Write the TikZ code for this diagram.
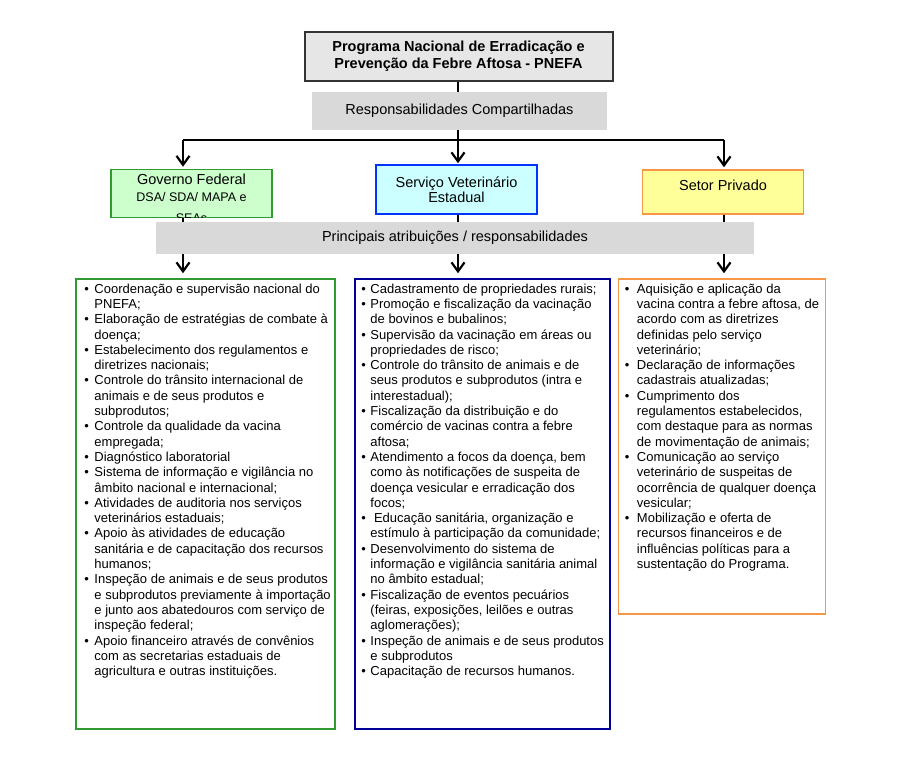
\documentclass[tikz,border=0pt]{standalone}
\usepackage{fontspec}
\setmainfont{Liberation Sans}
\usetikzlibrary{arrows.meta}
\definecolor{titlegray}{HTML}{E6E6E6}
\definecolor{bandgray}{HTML}{D9D9D9}
\definecolor{govgreen}{HTML}{339933}
\definecolor{govfill}{HTML}{CCFFCC}
\definecolor{svcblue}{HTML}{0033FF}
\definecolor{svcfill}{HTML}{CCFFFF}
\definecolor{listblue}{HTML}{000099}
\definecolor{privorange}{HTML}{F79646}
\definecolor{privfill}{HTML}{FFFF99}
\newlength\bulw
\newcommand\bul{\makebox[\bulw][l]{\textbullet}}
\newcommand\ind{\hspace*{\bulw}}
\newcommand\subfont{\fontsize{12.5}{17.5}\selectfont}
\begin{document}
\begin{tikzpicture}[x=1pt,y=-1pt,
  >={Straight Barb[length=9pt,width=13pt]},
  conn/.style={line width=2.2pt},
  headbox/.style={minimum width=161pt,line width=1.5pt,inner sep=0pt,align=center,font=\fontsize{14.5}{15}\selectfont},
  band/.style={fill=bandgray,inner sep=0pt,font=\fontsize{14.5}{16}\selectfont},
  listbox/.style={line width=1.5pt,inner sep=0pt},
  listtext/.style={anchor=north west,inner sep=0pt,align=left,font=\fontsize{13}{15.3}\selectfont}]
\useasboundingbox[fill=white] (0,0) rectangle (921,768);
% title
\node[draw=black!80,line width=2pt,fill=titlegray,minimum width=308pt,minimum height=49pt,
  font=\fontsize{14.5}{17}\selectfont\bfseries,align=center] (pnefa) at (458.5,56.5)
  {Programa Nacional de Erradicação e\\Prevenção da Febre Aftosa - PNEFA};
% the three parties
\node[headbox,draw=govgreen,fill=govfill,minimum height=48pt] (gov) at (191.5,193.5) {};
\begin{scope}
\clip ([xshift=1pt,yshift=1pt]gov.south west) rectangle ([xshift=-1pt,yshift=-1pt]gov.north east);
\node[anchor=north,align=center,inner sep=0pt,font=\fontsize{14.5}{17.5}\selectfont] (govname) at ([yshift=-5pt]gov.north)
  {Governo Federal\\\subfont DSA/ SDA/ MAPA e\\[3pt]\subfont SEAs};
\end{scope}
\node[headbox,draw=svcblue,fill=svcfill,minimum height=49pt] (svc) at (456.5,189.5) {Serviço Veterinário\\Estadual};
\node[headbox,draw=privorange,fill=privfill,minimum height=44pt,text depth=14pt] (priv) at (723,192) {Setor Privado};
% lists
\node[listbox,draw=govgreen,minimum width=259pt,minimum height=450pt] (govlist) at (205.5,504) {};
\node[listbox,draw=listblue,minimum width=255pt,minimum height=450pt] (svclist) at (482.5,504) {};
\node[listbox,draw=privorange,minimum width=207pt,minimum height=335pt] (privlist) at (722,446.5) {};
\global\bulw=10pt
\node[listtext] (govitems) at ([xshift=9pt,yshift=-4pt]govlist.north west) {%
\strut\bul Coordenação e supervisão nacional do\\\ind PNEFA;\\
\bul Elaboração de estratégias de combate à\\\ind doença;\\
\bul Estabelecimento dos regulamentos e\\\ind diretrizes nacionais;\\
\bul Controle do trânsito internacional de\\\ind animais e de seus produtos e\\\ind subprodutos;\\
\bul Controle da qualidade da vacina\\\ind empregada;\\
\bul Diagnóstico laboratorial\\
\bul Sistema de informação e vigilância no\\\ind âmbito nacional e internacional;\\
\bul Atividades de auditoria nos serviços\\\ind veterinários estaduais;\\
\bul Apoio às atividades de educação\\\ind sanitária e de capacitação dos recursos\\\ind humanos;\\
\bul Inspeção de animais e de seus produtos\\\ind e subprodutos previamente à importação\\\ind e junto aos abatedouros com serviço de\\\ind inspeção federal;\\
\bul Apoio financeiro através de convênios\\\ind com as secretarias estaduais de\\\ind agricultura e outras instituições.};
\global\bulw=9pt
\node[listtext] (svcitems) at ([xshift=7pt,yshift=-4pt]svclist.north west) {%
\strut\bul Cadastramento de propriedades rurais;\\
\bul Promoção e fiscalização da vacinação\\\ind de bovinos e bubalinos;\\
\bul Supervisão da vacinação em áreas ou\\\ind propriedades de risco;\\
\bul Controle do trânsito de animais e de\\\ind seus produtos e subprodutos (intra e\\\ind interestadual);\\
\bul Fiscalização da distribuição e do\\\ind comércio de vacinas contra a febre\\\ind aftosa;\\
\bul Atendimento a focos da doença, bem\\\ind como às notificações de suspeita de\\\ind doença vesicular e erradicação dos\\\ind focos;\\
\bul\ Educação sanitária, organização e\\\ind estímulo à participação da comunidade;\\
\bul Desenvolvimento do sistema de\\\ind informação e vigilância sanitária animal\\\ind no âmbito estadual;\\
\bul Fiscalização de eventos pecuários\\\ind (feiras, exposições, leilões e outras\\\ind aglomerações);\\
\bul Inspeção de animais e de seus produtos\\\ind e subprodutos\\
\bul Capacitação de recursos humanos.};
\global\bulw=12pt
\node[listtext] (privitems) at ([xshift=7pt,yshift=-4pt]privlist.north west) {%
\strut\bul Aquisição e aplicação da\\\ind vacina contra a febre aftosa, de\\\ind acordo com as diretrizes\\\ind definidas pelo serviço\\\ind veterinário;\\
\bul Declaração de informações\\\ind cadastrais atualizadas;\\
\bul Cumprimento dos\\\ind regulamentos estabelecidos,\\\ind com destaque para as normas\\\ind de movimentação de animais;\\
\bul Comunicação ao serviço\\\ind veterinário de suspeitas de\\\ind ocorrência de qualquer doença\\\ind vesicular;\\
\bul Mobilização e oferta de\\\ind recursos financeiros e de\\\ind influências políticas para a\\\ind sustentação do Programa.};
% connectors
\coordinate (hl) at (183,140); \coordinate (hm) at (458,140); \coordinate (hr) at (724,140);
\draw[conn] (pnefa.south -| hm) -- (hm);
\draw[conn] (hl) -- (hr);
\draw[conn,->,shorten >=2pt] (hl) -- (gov.north -| hl);
\draw[conn,->,shorten >=1pt] (hm) -- (svc.north -| hm);
\draw[conn,->,shorten >=2pt] (hr) -- (priv.north -| hr);
\draw[conn,->,shorten >=5pt] (gov.south -| hl) -- (govlist.north -| hl);
\draw[conn,->,shorten >=5pt] (svc.south -| hm) -- (svclist.north -| hm);
\draw[conn,->,shorten >=5pt] (priv.south -| hr) -- (privlist.north -| hr);
% grey bands over the lines
\node[band,minimum width=295pt,minimum height=38pt] (shared) at (459.5,111) {Responsabilidades Compartilhadas};
\node[band,minimum width=598pt,minimum height=32pt] (duties) at (455,238) {Principais atribuições / responsabilidades};
\end{tikzpicture}
\end{document}
